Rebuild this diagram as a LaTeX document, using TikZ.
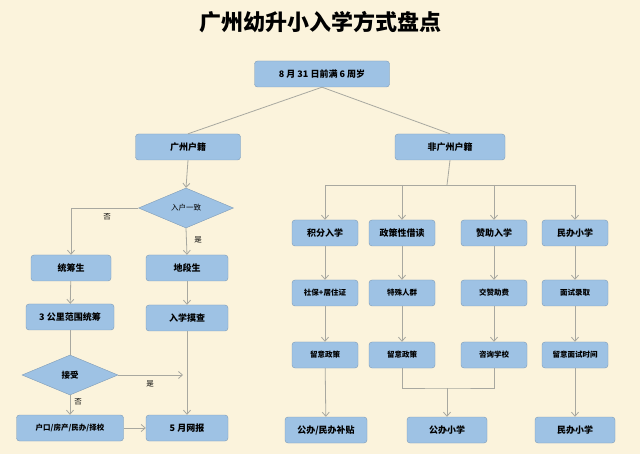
\documentclass[tikz,border=0pt]{standalone}
\usepackage{fontspec}
\setmainfont{Noto Sans CJK SC}
\usetikzlibrary{shapes.geometric,arrows.meta}
\definecolor{bgcol}{HTML}{FBF3DC}
\definecolor{boxcol}{HTML}{9EC2E4}
\definecolor{linecol}{HTML}{A8A8A0}
\tikzset{
  box/.style={draw=boxcol!80!black,fill=boxcol,rounded corners=3pt,minimum height=26pt,inner sep=1pt,font=\bfseries\fontsize{9}{10}\selectfont},
  choice/.style={diamond,draw=boxcol!80!black,fill=boxcol,inner sep=0pt,minimum height=40pt,font=\fontsize{7.5}{9}\selectfont},
  link/.style={draw=linecol,line width=0.8pt},
  arr/.style={link,-{Straight Barb[length=4pt,width=7pt]}},
  tag/.style={font=\fontsize{7.5}{9}\selectfont}
}
\begin{document}
\begin{tikzpicture}[x=1pt,y=-1pt]
\fill[bgcol] (0,0) rectangle (640,454);
\useasboundingbox (0,0) rectangle (640,454);
\node[font=\bfseries\fontsize{22}{24}\selectfont] (title) at (320,22) {广州幼升小入学方式盘点};
\node[box,minimum width=135pt] (age) at (322,74) {8 月 31 日前满 6 周岁};
\node[box,minimum width=105pt] (gz) at (188,147) {广州户籍};
\node[box,minimum width=110pt] (ngz) at (450,147) {非广州户籍};
% left branch
\node[choice,minimum width=95pt] (same) at (186,208) {入户一致};
\node[box,minimum width=80pt] (tcs) at (71,268) {统筹生};
\node[box,minimum width=82pt] (dds) at (187,268) {地段生};
\node[box,minimum width=88pt] (km) at (70,317) {3 公里范围统筹};
\node[box,minimum width=82pt] (mc) at (187,318) {入学摸查};
\node[choice,minimum width=96pt,font=\bfseries\fontsize{8.5}{9}\selectfont] (ok) at (70,375) {接受};
\node[box,minimum width=107pt,font=\bfseries\fontsize{7.5}{9}\selectfont] (hk) at (70,428) {户口/房产/民办/择校};
\node[box,minimum width=82pt] (wb) at (187,428) {5 月网报};
\coordinate (okend) at (183,375);
\node[tag] (no1) at (107,217) {否};
\node[tag] (yes1) at (198,240) {是};
\node[tag] (yes2) at (150,384) {是};
\node[tag] (no2) at (78,402) {否};
% right branch
\foreach \n/\x/\a/\b/\c in {c1/325/积分入学/社保+居住证/留意政策,
  c2/402/政策性借读/特殊人群/留意政策,
  c3/494/赞助入学/交赞助费/咨询学校,
  c4/575/民办小学/面试录取/留意面试时间}{
  \node[box,minimum width=66pt] (\n a) at (\x,233) {\a};
  \node[box,minimum width=66pt,font=\bfseries\fontsize{7.5}{9}\selectfont] (\n b) at (\x,293) {\b};
  \node[box,minimum width=66pt,font=\bfseries\fontsize{7.5}{9}\selectfont] (\n c) at (\x,355) {\c};
}
\node[box,minimum width=82pt] (pub1) at (326,430) {公办/民办补贴};
\node[box,minimum width=80pt] (pub2) at (447,430) {公办小学};
\node[box,minimum width=80pt] (priv) at (575,430) {民办小学};
\coordinate (hub) at (447,185);
\coordinate (mrg) at (447,388);
% connectors
\draw[link] (age.south) -- (gz.north);
\draw[link] (age.south) -- (ngz.north);
\draw[arr] (gz.south) -- (same.north);
\draw[arr] (same.west) -| (tcs.north);
\draw[arr] (same.south) -- (dds.north);
\draw[arr] (tcs) -- (km);
\draw[arr] (dds) -- (mc);
\draw[link] (km) -- (ok);
\draw[arr] (ok.east) -- (okend);
\draw[arr] (ok.south) -- (hk.north);
\draw[arr] (mc) -- (wb);
\draw[arr] (hk) -- (wb);
\draw[link] (ngz.south) -- (hub);
\draw[link] (c1a.north |- hub) -- (c4a.north |- hub);
\foreach \n in {c1,c2,c3,c4}{
  \draw[arr] (\n a.north |- hub) -- (\n a.north);
  \draw[arr] (\n a) -- (\n b);
  \draw[arr] (\n b) -- (\n c);
}
\draw[arr] (c1c) -- (pub1);
\draw[arr] (c4c) -- (priv);
\draw[link] (c2c.south) |- (mrg) -| (c3c.south);
\draw[arr] (mrg) -- (pub2.north);
\end{tikzpicture}
\end{document}
